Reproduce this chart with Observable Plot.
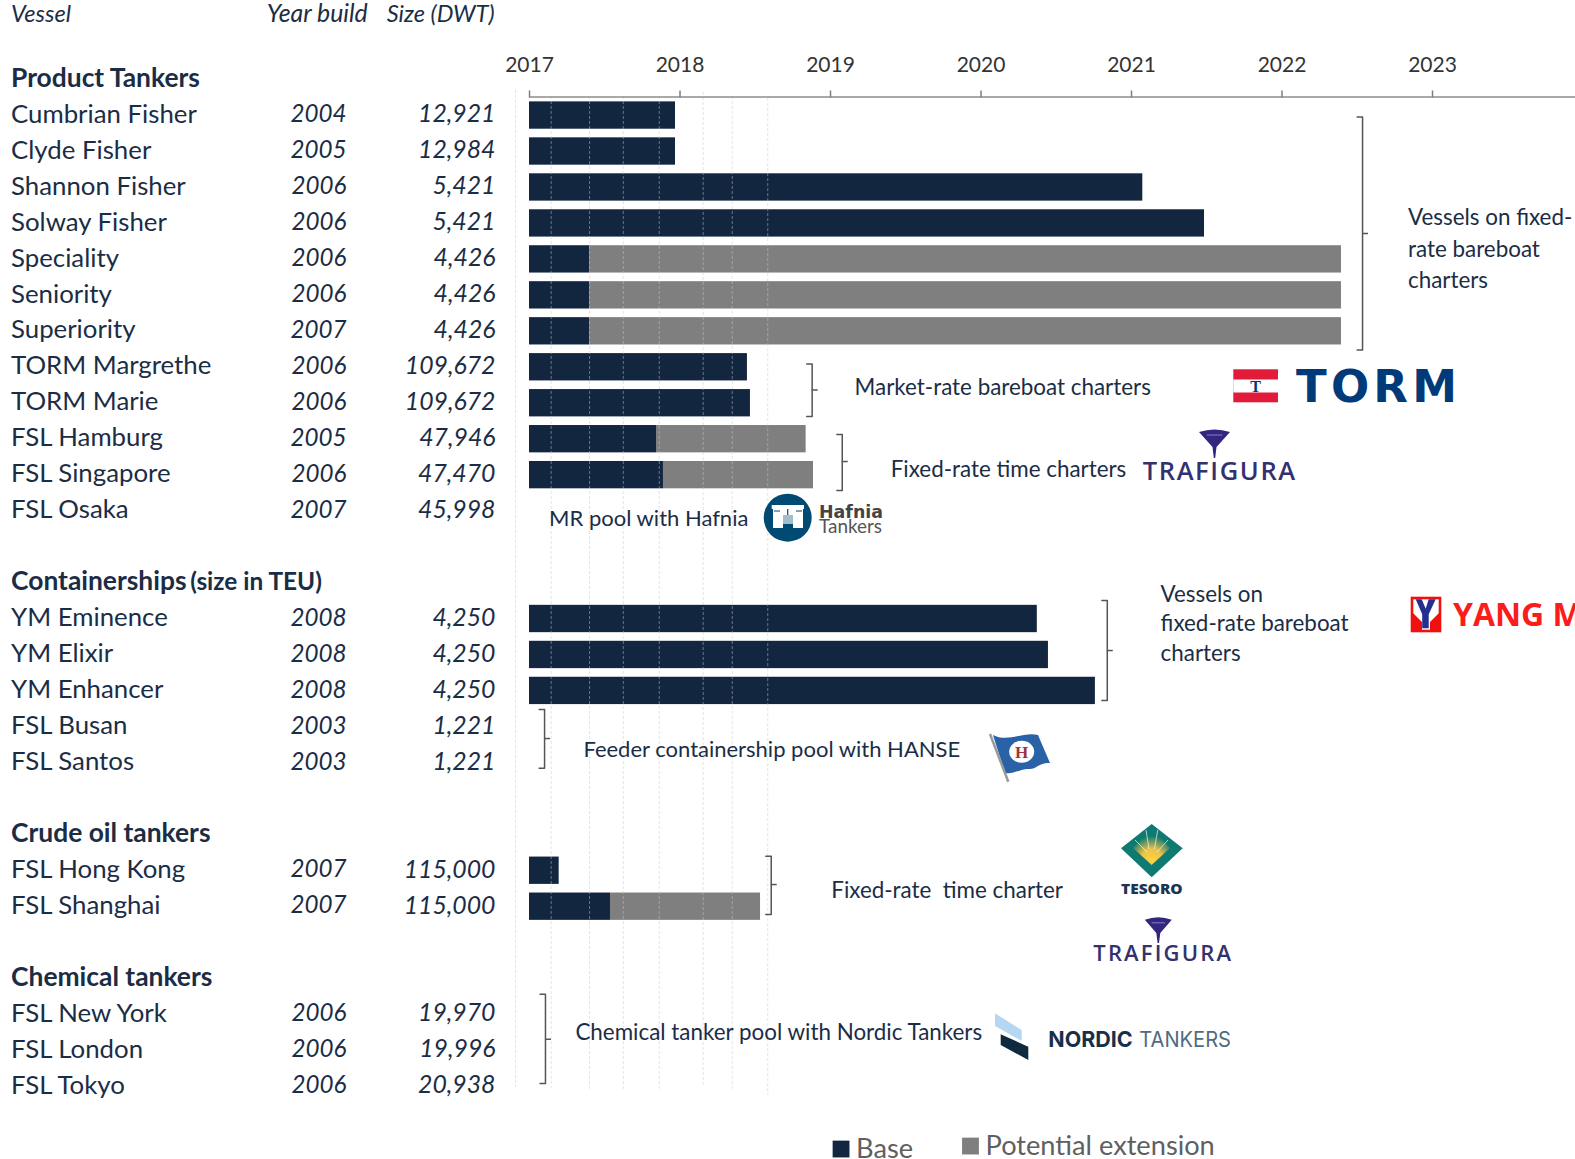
<!DOCTYPE html>
<html>
<head>
<meta charset="utf-8">
<script src="https://cdn.jsdelivr.net/npm/d3@7"></script>
<script src="https://cdn.jsdelivr.net/npm/@observablehq/plot@0.6"></script>
<style>
html,body{margin:0;padding:0;background:#fff;overflow:hidden}
svg{display:block}
</style>
</head>
<body>
<div id="chart"></div>
<script>
const FONT = "Lato, 'Open Sans', sans-serif";
const NAVY = "#12263f", GREY = "#7f7f7f", INK = "#1b2d45";

// Row order: group headers, vessels and blank spacer rows, top to bottom
const rowNames = ["Product Tankers",
  "Cumbrian Fisher","Clyde Fisher","Shannon Fisher","Solway Fisher","Speciality","Seniority","Superiority",
  "TORM Margrethe","TORM Marie","FSL Hamburg","FSL Singapore","FSL Osaka","",
  "Containerships",
  "YM Eminence","YM Elixir","YM Enhancer","FSL Busan","FSL Santos"," ",
  "Crude oil tankers","FSL Hong Kong","FSL Shanghai","  ",
  "Chemical tankers","FSL New York","FSL London","FSL Tokyo"];
const headers = ["Product Tankers","Containerships","Crude oil tankers","Chemical tankers"];
const vessels = rowNames.filter(d => d.trim() && !headers.includes(d));
const yearBuilt = [2004,2005,2006,2006,2006,2006,2007,2006,2006,2005,2006,2007,2008,2008,2008,2003,2003,2007,2007,2006,2006,2006];
const sizeDwt = [12921,12984,5421,5421,4426,4426,4426,109672,109672,47946,47470,45998,4250,4250,4250,1221,1221,115000,115000,19970,19996,20938];
const baseEnd = [2017.97,2017.97,2021.075,2021.485,2017.40,2017.40,2017.40,2018.448,2018.468,2017.844,2017.89,null,2020.374,2020.448,2020.76,null,null,2017.197,2017.538,null,null,null];
const extensionEnd = [null,null,null,null,2022.395,2022.395,2022.395,null,null,2018.838,2018.887,null,null,null,null,null,null,null,2018.535,null,null,null];
const axisYears = [2017,2018,2019,2020,2021,2022,2023];
const gridYears = [2016.907,2017.144,2017.399,2017.623,2017.862,2018.154,2018.347,2018.583];
const gridTop = [0.33,0.5,0.5,0.5,0.5,0.39,0.5,0.56];
const gridBottom = [28.05,28.08,28.11,28.11,28.11,28.05,28.11,28.28];
const notes = ["Vessels on fixed-","rate bareboat","charters","Market-rate bareboat charters","Fixed-rate time charters","MR pool with Hafnia","Vessels on","fixed-rate bareboat","charters","Feeder containership pool with HANSE","Fixed-rate  time charter","Chemical tanker pool with Nordic Tankers"];
const noteX = [2022.837,2022.837,2022.837,2019.16,2019.40,2017.13,2021.193,2021.193,2021.193,2017.358,2019.005,2017.305];
const noteY = [3.865,4.755,5.617,8.593,10.873,12.235,14.369,15.156,15.99,18.66,22.58,26.549];
const noteSize = [22.4,22.4,22.4,22.4,22.4,22.0,22.4,22.4,22.4,22.0,22.4,22.4];
const bracketX = [2022.535,2018.878,2019.078,2020.839,2017.100,2018.606,2017.106];
const bracketTop = [1.071,7.942,9.900,14.516,17.547,21.627,25.465];
const bracketMid = [4.310,8.662,10.651,15.907,18.354,22.414,26.716];
const bracketBottom = [7.550,9.399,11.457,17.297,19.180,23.248,27.948];
const legendLabels = ["Base","Potential extension"];

const rowOf = name => rowNames.indexOf(name);
const table = vessels.map((name,i) => ({name, row: rowOf(name), built: yearBuilt[i], size: sizeDwt[i], base: baseEnd[i], ext: extensionEnd[i]}));
const BAR = 0.38, SHIFT = 0.03, START = 2017, LEFT = 2013.555;
const bracketPaths = bracketX.flatMap((x,i) => [
  {id:i,x:x-0.036,y:bracketTop[i]},{id:i,x,y:bracketTop[i]},{id:i,x,y:bracketBottom[i]},{id:i,x:x-0.036,y:bracketBottom[i]}
]);
const bracketTicks = bracketX.map((x,i)=>({x,x2:x+0.04,y:bracketMid[i]}));

// Company logos: drawn as small pictures with their names as real text
function logos() {
  const funnel = (cx,top,w,tip) => `<path d="M${cx-w/2} ${top+3}Q${cx} ${top-2} ${cx+w/2} ${top+3}L${cx+2} ${top+(tip-top)*0.62}L${cx+0.7} ${tip}L${cx-0.7} ${tip}L${cx-2} ${top+(tip-top)*0.62}Z" fill="#33267f"/><path d="M${cx-w/4} ${top+6}L${cx+w/4} ${top+6}" stroke="#6a62b5" stroke-width="1.5"/>`;
  const html = `
  <defs><radialGradient id="sun" gradientUnits="userSpaceOnUse" cx="1151.7" cy="860" r="24">
    <stop offset="0" stop-color="#ffd53a"/><stop offset="0.45" stop-color="#eec24a"/><stop offset="1" stop-color="#0f7a72"/>
  </radialGradient></defs>
  <g font-family="${FONT}" text-anchor="start">
    <rect x="1233.3" y="369.3" width="44.7" height="33" fill="#e31b3a"/>
    <rect x="1233.3" y="379.5" width="44.7" height="13" fill="#fff"/>
    <text x="1255.6" y="392" font-family="'Liberation Serif',serif" font-weight="700" font-size="16" text-anchor="middle" fill="#003a78">T</text>
    <text x="1296" y="402" font-family="'DejaVu Sans',sans-serif" font-weight="700" font-size="45" fill="#003a78" textLength="161" lengthAdjust="spacing">TORM</text>

    ${funnel(1214.5,429,31,458)}
    <text x="1142.7" y="480" font-family="'Open Sans',sans-serif" font-weight="600" font-size="25.5" fill="#33316f" textLength="152.5" lengthAdjust="spacing">TRAFIGURA</text>

    <circle cx="787.7" cy="517.7" r="24" fill="#004a73"/>
    <path d="M771.7 505h32.3v4h-1v19h-10v-4h-10v4h-10v-19h-1.3z" fill="#fff"/>
    <rect x="783" y="515" width="10" height="9" fill="#a5bccb"/>
    <path d="M787.7 509v6M774 511h6M796 511h6" stroke="#004a73" stroke-width="1.2"/>
    <text x="819" y="517.7" font-family="'DejaVu Sans',sans-serif" font-weight="700" font-size="18" fill="#444" textLength="64" lengthAdjust="spacingAndGlyphs">Hafnia</text>
    <text x="819" y="532.7" font-size="19" fill="#555" textLength="63" lengthAdjust="spacingAndGlyphs">Tankers</text>

    <rect x="1412" y="598" width="28" height="33" fill="#fff" stroke="#f01010" stroke-width="2.6"/>
    <path d="M1413 613l9 9v9h-9zM1439 613l-9 9v9h9z" fill="#f01010"/>
    <path d="M1415.7 599.3h6l4 9.5 3-9.5h7l-7 15v14h-6.5v-14z" fill="#23308f"/>
    <text x="1453" y="625.7" font-family="'Open Sans',sans-serif" font-weight="700" font-size="32" fill="#fb1c1c">YANG MING</text>

    <path d="M993 735C1008 743 1024 731 1038 735L1050 763C1040 762 1036 769 1030 769C1020 768 1014 775 1005 773Z" fill="#2a62a8"/>
    <ellipse cx="1021.7" cy="751.7" rx="12.5" ry="11" fill="#fff"/>
    <text x="1021.7" y="758" font-family="'Liberation Serif',serif" font-weight="700" font-size="17" text-anchor="middle" fill="#a33040">H</text>
    <path d="M990 734L1008.3 781.7" stroke="#9a9a9a" stroke-width="2.5" fill="none"/>

    <path d="M1151.7 824L1182.7 848.3L1151.7 877.3L1121 848.3Z" fill="#0f7a72"/>
    <path d="M1151.7 828L1170 848L1151.7 865L1133 848Z" fill="url(#sun)"/>
    <path d="M1147 852L1135 840M1149 849L1146 830M1154.5 849L1157.7 830M1157 852L1168 840" stroke="#fff" stroke-width="1" stroke-opacity="0.65"/>
    <text x="1121" y="893.5" font-family="'Open Sans',sans-serif" font-weight="800" font-size="14.5" fill="#1c3550" textLength="61.7" lengthAdjust="spacingAndGlyphs">TESORO</text>

    ${funnel(1158.3,916.7,27,943)}
    <text x="1093.3" y="960.7" font-family="'Open Sans',sans-serif" font-weight="600" font-size="22" fill="#33316f" textLength="137.7" lengthAdjust="spacing">TRAFIGURA</text>

    <path d="M995 1013.3L1021.7 1030V1041L995 1026Z" fill="#b5d7f3"/>
    <path d="M1000.7 1034.3L1028.3 1046.7V1060L1000.7 1045Z" fill="#0f2a3f"/>
    <text x="1048.3" y="1046.7" font-family="Inter,sans-serif" font-weight="700" font-size="22" fill="#17304a" textLength="84.4" lengthAdjust="spacingAndGlyphs">NORDIC</text>
    <text x="1139.3" y="1046.7" font-family="Inter,sans-serif" font-size="22" fill="#4f6b80" textLength="91.7" lengthAdjust="spacingAndGlyphs">TANKERS</text>
  </g>`;
  return d3.create("svg:g").html(html).node();
}

const textBase = {fontFamily: FONT, fill: INK};
const chart = Plot.plot({
  width: 1575, height: 1159,
  marginTop: 96.5, marginLeft: 0, marginRight: 0, marginBottom: 0,
  style: {fontFamily: FONT, background: "#fff"},
  x: {domain: [2013.485, 2023.95], range: [0, 1575]},
  y: {domain: [-2.169, 30.06], range: [0, 1159], axis: null},
  marks: [
    // bars
    Plot.rectX(table.filter(d => d.ext != null), {x1: "base", x2: "ext", y1: d => d.row - BAR + SHIFT, y2: d => d.row + BAR + SHIFT, fill: GREY}),
    Plot.rectX(table.filter(d => d.base != null), {x1: () => START, x2: "base", y1: d => d.row - BAR + SHIFT, y2: d => d.row + BAR + SHIFT, fill: NAVY}),
    // dashed guides
    Plot.ruleX(gridYears, {x: d => d, y1: (d,i) => gridTop[i], y2: (d,i) => gridBottom[i], stroke: "#c9c9c9", strokeOpacity: 0.5, strokeWidth: 1, strokeDasharray: "3 2"}),
    // time axis
    Plot.ruleY([0.514], {x1: START, x2: 2023.95, stroke: "#8c8c8c", strokeWidth: 1.5}),
    Plot.axisX({anchor: "top", ticks: axisYears, tickFormat: "d", tickSize: 7, tickPadding: 18, stroke: "#7f7f7f", strokeWidth: 1.5, fontSize: 21, fill: "#333", label: null}),
    // column titles
    Plot.text(["Vessel"], {x: () => LEFT, y: () => -1.79, text: d => d, textAnchor: "start", fontSize: 23.6, fontStyle: "italic", ...textBase}),
    Plot.text(["Year build","Size (DWT)"], {x: [2015.925, 2016.768], y: () => -1.79, text: d => d, textAnchor: "end", fontSize: (d,i) => i ? 23.6 : 24.8, fontStyle: "italic", ...textBase}),
    // group headers
    Plot.text(headers, {x: () => LEFT, y: rowOf, text: d => d, textAnchor: "start", fontSize: 26.4, fontWeight: 700, ...textBase}),
    Plot.text(["(size in TEU)"], {x: () => 2014.745, y: () => rowOf("Containerships"), text: d => d, textAnchor: "start", fontSize: 24.4, fontWeight: 700, ...textBase}),
    // table rows
    Plot.text(table, {x: () => LEFT, y: "row", text: "name", textAnchor: "start", fontSize: 25.8, ...textBase}),
    Plot.text(table, {x: () => 2015.784, y: "row", text: d => String(d.built), textAnchor: "end", fontSize: 24.2, fontStyle: "italic", ...textBase}),
    Plot.text(table, {x: () => 2016.774, y: "row", text: d => d3.format(",")(d.size), textAnchor: "end", fontSize: 24.8, fontStyle: "italic", ...textBase}),
    // notes & brackets
    Plot.text(notes, {x: noteX, y: noteY, text: d => d, textAnchor: "start", fontSize: (d,i) => noteSize[i], ...textBase}),
    Plot.line(bracketPaths, {x: "x", y: "y", z: "id", stroke: "#555", strokeWidth: 1.5}),
    Plot.ruleY(bracketTicks, {x1: "x", x2: "x2", y: "y", stroke: "#555", strokeWidth: 1.5}),
    // legend
    Plot.dot(legendLabels, {x: [2019.07, 2019.93], y: [29.769, 29.686], symbol: "square", r: 9.5, fill: [NAVY, GREY]}),
    Plot.text(legendLabels, {x: [2019.17, 2020.03], y: [29.78, 29.69], text: d => d, textAnchor: "start", fontSize: 27.2, fontFamily: FONT, fill: "#5f5f5f"}),
    logos
  ]
});
document.getElementById("chart").appendChild(chart);
</script>
</body>
</html>
